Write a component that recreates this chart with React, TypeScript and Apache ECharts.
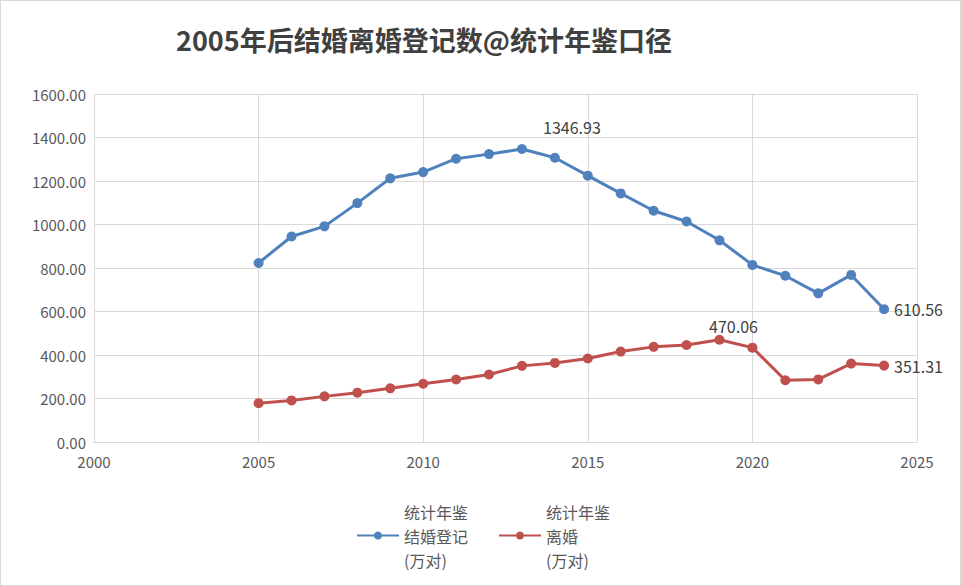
import React, { useEffect, useRef } from 'react';
import * as echarts from 'echarts';

const years = [2005, 2006, 2007, 2008, 2009, 2010, 2011, 2012, 2013, 2014, 2015, 2016, 2017, 2018, 2019, 2020, 2021, 2022, 2023, 2024];
const marriage = [823.1, 945.0, 991.4, 1098.3, 1212.4, 1241.0, 1302.4, 1323.6, 1346.93, 1306.7, 1224.7, 1142.8, 1063.1, 1013.9, 927.3, 814.3, 764.3, 683.5, 768.2, 610.56];
const divorce = [178.5, 191.3, 209.8, 226.9, 246.8, 267.8, 287.4, 310.4, 350.0, 363.7, 384.1, 415.8, 437.4, 446.1, 470.06, 433.9, 283.9, 287.9, 360.5, 351.31];
const marriageName = '统计年鉴\n结婚登记\n(万对)';
const divorceName = '统计年鉴\n离婚\n(万对)';

// 需要显示数值标签的年份
const marriageLabels: Record<number, number[]> = { 2013: [50, -4], 2024: [0, 0] };
const divorceLabels: Record<number, number[]> = { 2019: [14, 4], 2024: [0, 0] };

const App: React.FC = () => {
  const chartRef = useRef<HTMLDivElement>(null);

  useEffect(() => {
    document.body.style.margin = '0';
    if (!chartRef.current) return;
    const chart = echarts.init(chartRef.current, null, { renderer: 'svg' });
    const font = '"Noto Sans CJK SC", "Noto Sans", sans-serif';

    const build = (vals: number[], labels: Record<number, number[]>) =>
      vals.map((v, i) => {
        const y = years[i];
        if (!labels[y]) return [y, v];
        const isRight = y === 2024;
        return {
          value: [y, v],
          label: {
            show: true,
            position: isRight ? 'right' : 'top',
            offset: labels[y],
            formatter: (p: any) => p.value[1].toFixed(2),
            color: '#404040',
            fontSize: 16,
            fontFamily: font,
          },
        };
      });

    chart.setOption({
      animation: false,
      textStyle: { fontFamily: font },
      title: {
        text: '2005年后结婚离婚登记数@统计年鉴口径',
        left: 170,
        top: 20,
        textStyle: { fontSize: 27, fontWeight: 'bold', color: '#404040', fontFamily: font },
      },
      grid: { left: 93, right: 43, top: 93, bottom: 143 },
      xAxis: {
        type: 'value',
        min: 2000,
        max: 2025,
        interval: 5,
        axisLine: { show: true, lineStyle: { color: '#d9d9d9' } },
        axisTick: { show: false },
        axisLabel: { color: '#595959', fontSize: 15, margin: 12, formatter: (v: number) => String(v) },
        splitLine: { lineStyle: { color: '#d9d9d9' } },
      },
      yAxis: {
        type: 'value',
        min: 0,
        max: 1600,
        interval: 200,
        axisLine: { show: false },
        axisTick: { show: false },
        axisLabel: { color: '#595959', fontSize: 15, formatter: (v: number) => v.toFixed(2) },
        splitLine: { lineStyle: { color: '#d9d9d9' } },
      },
      legend: {
        top: 496,
        left: 350,
        itemGap: 30,
        itemWidth: 42,
        itemHeight: 10,
        textStyle: {
          color: '#595959',
          fontSize: 16,
          lineHeight: 24,
          fontFamily: font,
          verticalAlign: 'top',
          padding: [-5, 0, 0, 0],
        },
        data: [marriageName, divorceName],
      },
      series: [
        {
          name: marriageName,
          type: 'line',
          data: build(marriage, marriageLabels),
          symbol: 'circle',
          symbolSize: 10,
          lineStyle: { color: '#4f81bd', width: 3 },
          itemStyle: { color: '#4f81bd' },
        },
        {
          name: divorceName,
          type: 'line',
          data: build(divorce, divorceLabels),
          symbol: 'circle',
          symbolSize: 10,
          lineStyle: { color: '#c0504d', width: 3 },
          itemStyle: { color: '#c0504d' },
        },
      ],
    });
    return () => chart.dispose();
  }, []);

  return (
    <div
      ref={chartRef}
      style={{ width: 961, height: 586, boxSizing: 'border-box', border: '1px solid #d9d9d9', background: '#fff' }}
    />
  );
};

export default App;
